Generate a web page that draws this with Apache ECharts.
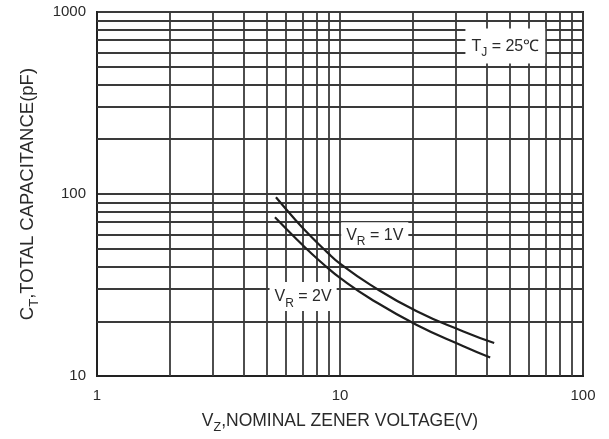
<!DOCTYPE html>
<html>
<head>
<meta charset="utf-8">
<script src="https://cdn.jsdelivr.net/npm/echarts@6/dist/echarts.min.js"></script>
<style>
  html, body { margin: 0; padding: 0; background: #fff; }
  #chart { width: 609px; height: 439px; }
</style>
</head>
<body>
<div id="chart"></div>
<script>
// Total capacitance vs nominal zener voltage, log-log
const vzVR1 = [5.45, 6.6, 7.65, 8.8, 10, 13.3, 20.7, 32.2, 43.1];
const ctVR1 = [96, 71.4, 57.9, 48.3, 41.5, 31.8, 22.7, 17.6, 15.2];
const vzVR2 = [5.4, 6.6, 7.65, 8.8, 10, 13.3, 20.7, 32.2, 41.5];
const ctVR2 = [74.6, 56.8, 47, 39.8, 34.6, 26.7, 19.1, 14.6, 12.65];

// Grid lines between the decades
const xGridValues = [2, 3, 4, 5, 6, 7, 8, 9, 20, 30, 40, 50, 60, 70, 80, 90];
const yGridValues = [20, 30, 40, 50, 60, 70, 80, 90, 200, 300, 400, 500, 600, 700, 800, 900];

const xTickLabels = ['1', '10', '100'];
const yTickLabels = ['10', '100', '1000'];

const FONT = '"Liberation Sans", Arial, sans-serif';
const INK = '#2a2a2a';
const GRID = '#3a3a3a';

const pair = (xs, ys) => xs.map((x, i) => [x, ys[i]]);

const gridLineData = [
  ...xGridValues.map(v => ({ xAxis: v })),
  ...yGridValues.map(v => ({ yAxis: v }))
];

const subRich = {
  m: { fontFamily: FONT, fontSize: 16, color: INK, lineHeight: 18, verticalAlign: 'middle' },
  s: { fontFamily: FONT, fontSize: 12, color: INK, lineHeight: 12, padding: [13, 0, 0, 0], verticalAlign: 'middle' }
};

const note = (text, coord, pad) => ({
  coord: coord,
  symbolSize: 0,
  label: {
    show: true,
    position: 'inside',
    formatter: text,
    backgroundColor: '#fff',
    padding: pad,
    rich: subRich
  }
});

const chart = echarts.init(document.getElementById('chart'), null, { renderer: 'canvas' });

chart.setOption({
  animation: false,
  backgroundColor: '#fff',
  grid: {
    left: 97, right: 26, top: 12, bottom: 61,
    show: true, borderColor: '#222', borderWidth: 2, backgroundColor: '#fff'
  },
  xAxis: {
    type: 'log', logBase: 10, min: 1, max: 100,
    name: '{m|V}{s|Z}{m|,NOMINAL ZENER VOLTAGE(V)}',
    nameLocation: 'middle', nameGap: 32,
    nameTextStyle: {
      rich: {
        m: { fontFamily: FONT, fontSize: 17.5, color: INK, lineHeight: 19, verticalAlign: 'middle' },
        s: { fontFamily: FONT, fontSize: 12.5, color: INK, lineHeight: 12, padding: [13, 0, 0, 0], verticalAlign: 'middle' }
      }
    },
    axisLine: { show: true, lineStyle: { color: '#222', width: 2 } },
    axisTick: { show: false },
    axisLabel: {
      fontFamily: FONT, fontSize: 15, color: INK, margin: 12,
      formatter: v => xTickLabels.find(t => +t === Math.round(v)) || ''
    },
    splitLine: { show: true, lineStyle: { color: GRID, width: 1.8 } }
  },
  yAxis: {
    type: 'log', logBase: 10, min: 10, max: 1000,
    name: '{m|C}{s|T}{m|,TOTAL CAPACITANCE(pF)}',
    nameLocation: 'middle', nameGap: 60,
    nameTextStyle: {
      rich: {
        m: { fontFamily: FONT, fontSize: 18.5, color: INK, lineHeight: 19, verticalAlign: 'middle' },
        s: { fontFamily: FONT, fontSize: 13, color: INK, lineHeight: 12, padding: [13, 0, 0, 0], verticalAlign: 'middle' }
      }
    },
    axisLine: { show: true, lineStyle: { color: '#222', width: 2 } },
    axisTick: { show: false },
    axisLabel: {
      fontFamily: FONT, fontSize: 15, color: INK, margin: 11,
      formatter: v => yTickLabels.find(t => +t === Math.round(v)) || ''
    },
    splitLine: { show: true, lineStyle: { color: GRID, width: 1.8 } }
  },
  series: [
    {
      name: 'grid',
      type: 'line',
      data: [],
      silent: true,
      z: 1,
      markLine: {
        silent: true,
        symbol: ['none', 'none'],
        label: { show: false },
        lineStyle: { color: GRID, width: 1.8, type: 'solid' },
        data: gridLineData,
        animation: false
      }
    },
    {
      name: 'VR = 1V',
      type: 'line',
      data: pair(vzVR1, ctVR1),
      smooth: 0.5,
      showSymbol: false,
      z: 5,
      lineStyle: { color: '#1e1e1e', width: 2.2 }
    },
    {
      name: 'VR = 2V',
      type: 'line',
      data: pair(vzVR2, ctVR2),
      smooth: 0.5,
      showSymbol: false,
      z: 5,
      lineStyle: { color: '#1e1e1e', width: 2.2 }
    },
    {
      name: 'notes',
      type: 'scatter',
      data: [],
      z: 10,
      markPoint: {
        silent: true,
        symbol: 'rect',
        symbolSize: 0,
        animation: false,
        data: [
          note('{m|T}{s|J}{m| = 25℃}', [47.9, 650], [9, 6, 8, 6]),
          note('{m|V}{s|R}{m| = 1V}', [13.9, 59.7], [4, 5, 3, 5]),
          note('{m|V}{s|R}{m| = 2V}', [7.05, 27.4], [6, 5, 5, 5])
        ]
      }
    }
  ]
});
</script>
</body>
</html>
